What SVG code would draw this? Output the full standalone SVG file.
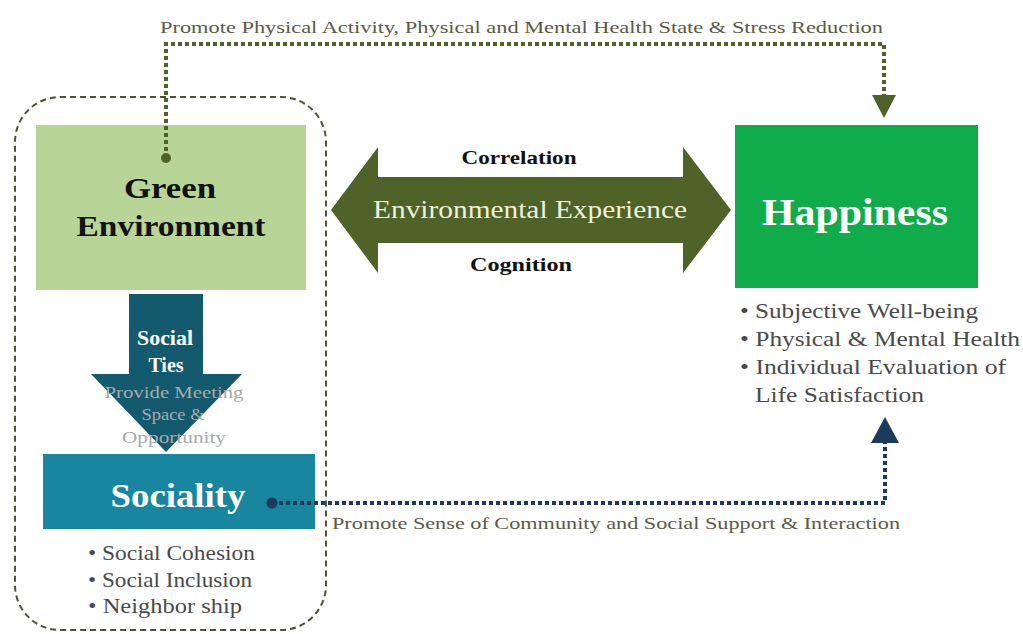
<svg xmlns="http://www.w3.org/2000/svg" width="1023" height="634" viewBox="0 0 1023 634">
  <style>
    .serif { font-family: "Liberation Serif", "DejaVu Serif", serif; }
    .label { font-family: "Liberation Serif", serif; font-size: 17px; fill: #5b5a45; }
    .bullet { font-family: "Liberation Serif", serif; font-size: 21px; fill: #4a4a4a; }
    .title { font-family: "Liberation Serif", serif; font-weight: bold; text-anchor: middle; }
    .olive-dots { fill: none; stroke: #4f6228; stroke-width: 4; stroke-dasharray: 4 3; }
    .navy-dots { fill: none; stroke: #1b3a5c; stroke-width: 4; stroke-dasharray: 4 3; }
  </style>
  <rect width="1023" height="634" fill="#ffffff"/>

  <!-- grouping frame around the green environment and sociality -->
  <g id="frame">
    <rect x="15" y="97" width="311" height="533" rx="45" ry="45" fill="none" stroke="#4f5232" stroke-width="2" stroke-dasharray="6 4"/>
  </g>

  <g id="green-environment">
    <rect x="36" y="125" width="270" height="165" fill="#b8d597"/>
    <text class="title" x="170" y="198" font-size="30" fill="#111" textLength="92" lengthAdjust="spacingAndGlyphs">Green</text>
    <text class="title" x="171" y="236" font-size="30" fill="#111" textLength="189" lengthAdjust="spacingAndGlyphs">Environment</text>
  </g>

  <g id="social-ties">
    <path d="M129,294 H203 V374 H242 L166,452 L91,374 H129 Z" fill="#135a6e"/>
    <text class="title" x="165" y="345" font-size="20" fill="#ffffff" textLength="56" lengthAdjust="spacingAndGlyphs">Social</text>
    <text class="title" x="166" y="372" font-size="20" fill="#ffffff">Ties</text>
    <g class="serif" font-size="17" fill="#a9a9a9" text-anchor="middle">
      <text x="174" y="398" textLength="139" lengthAdjust="spacingAndGlyphs">Provide Meeting</text>
      <text x="173" y="420" textLength="63" lengthAdjust="spacingAndGlyphs">Space &amp;</text>
      <text x="174" y="443" textLength="104" lengthAdjust="spacingAndGlyphs">Opportunity</text>
    </g>
  </g>

  <g id="sociality">
    <rect x="43" y="454" width="272" height="75" fill="#17869e"/>
    <text class="title" x="178" y="507" font-size="33" fill="#ffffff" textLength="135" lengthAdjust="spacingAndGlyphs">Sociality</text>
    <text class="bullet" x="88" y="560" textLength="167" lengthAdjust="spacingAndGlyphs">• Social Cohesion</text>
    <text class="bullet" x="88" y="587" textLength="164" lengthAdjust="spacingAndGlyphs">• Social Inclusion</text>
    <text class="bullet" x="88" y="613" textLength="154" lengthAdjust="spacingAndGlyphs">• Neighbor ship</text>
  </g>

  <g id="environmental-experience">
    <path d="M331,210 L378,147 V177 H683 V147 L731,210 L683,273 V243 H378 V273 Z" fill="#4f6228"/>
    <text class="serif" x="530" y="218" font-size="26" fill="#eef0dc" text-anchor="middle" textLength="314" lengthAdjust="spacingAndGlyphs">Environmental Experience</text>
    <text class="title" x="519" y="164" font-size="19" fill="#111" textLength="115" lengthAdjust="spacingAndGlyphs">Correlation</text>
    <text class="title" x="521" y="271" font-size="19" fill="#111" textLength="102" lengthAdjust="spacingAndGlyphs">Cognition</text>
  </g>

  <g id="happiness">
    <rect x="735" y="125" width="243" height="163" fill="#10ab4b"/>
    <text class="title" x="855" y="225" font-size="37" fill="#ffffff" textLength="186" lengthAdjust="spacingAndGlyphs">Happiness</text>
    <text class="bullet" x="740" y="318" textLength="238" lengthAdjust="spacingAndGlyphs">• Subjective Well-being</text>
    <text class="bullet" x="740" y="346" textLength="280" lengthAdjust="spacingAndGlyphs">• Physical &amp; Mental Health</text>
    <text class="bullet" x="740" y="374" textLength="266" lengthAdjust="spacingAndGlyphs">• Individual Evaluation of</text>
    <text class="bullet" x="755" y="402" textLength="169" lengthAdjust="spacingAndGlyphs">Life Satisfaction</text>
  </g>

  <g id="connectors">
    <!-- green environment to happiness over the top -->
    <path class="olive-dots" d="M166,158 V44 H884 V95"/>
    <circle cx="166" cy="158" r="5" fill="#4f6228"/>
    <path d="M872,95 H896 L884,118 Z" fill="#4f6228"/>
    <text class="label" x="160" y="33" textLength="723" lengthAdjust="spacingAndGlyphs">Promote Physical Activity,  Physical and Mental  Health State &amp; Stress Reduction</text>

    <!-- sociality to happiness along the bottom -->
    <path class="navy-dots" d="M272,503 H885 V443"/>
    <circle cx="272" cy="503" r="5.5" fill="#1b3a5c"/>
    <path d="M871,443 H899 L885,417 Z" fill="#1b3a5c"/>
    <text class="label" x="332" y="529" textLength="568" lengthAdjust="spacingAndGlyphs">Promote Sense of Community and Social Support &amp; Interaction</text>
  </g>
</svg>
